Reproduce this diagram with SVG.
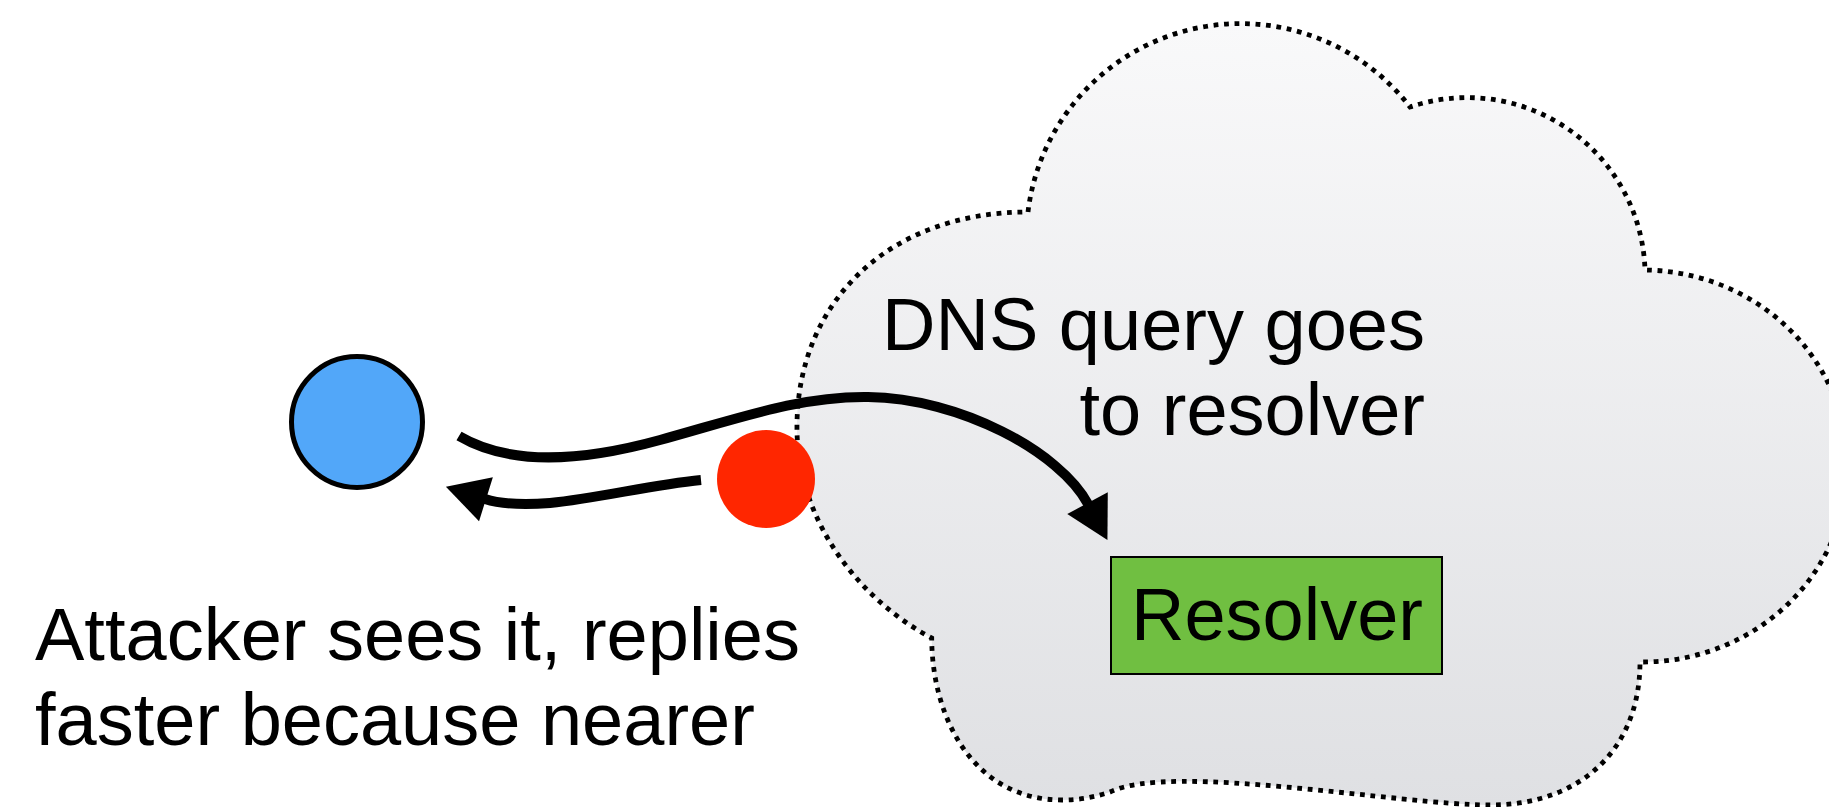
<svg xmlns="http://www.w3.org/2000/svg" width="1829" height="807" viewBox="0 0 1829 807">
  <style>
    .lbl { font-family: "Liberation Sans", Arial, sans-serif; font-size: 74px; fill: #000; }
    .conn { fill: none; stroke: #000; stroke-width: 10; stroke-linecap: butt; }
  </style>
  <defs>
    <linearGradient id="cloudFill" gradientUnits="userSpaceOnUse" x1="0" y1="24" x2="0" y2="807">
      <stop offset="0" stop-color="#F9F9FA"/>
      <stop offset="1" stop-color="#DFE0E3"/>
    </linearGradient>
    <marker id="arrow" markerUnits="userSpaceOnUse" markerWidth="46" markerHeight="50" viewBox="-2 -25 46 50" refX="1" refY="0" orient="auto">
      <path d="M0,-23 L42,0 L0,23 Z" fill="#000"/>
    </marker>
  </defs>
  <rect width="1829" height="807" fill="#FFFFFF"/>

  <g id="cloud">
    <path d="M1028,212 A214,214 0 0 1 1410,107 A178,178 0 0 1 1645,270 A205,196 0 0 1 1640,662 C1640,750 1580,805 1490,805 C1400,805 1170,762 1110,792 C1095,797 1080,800 1062,800 C975,800 932,720 931.7,638 C860,600 795,520 797,423 C799,300 890,212 1028,212 Z" fill="url(#cloudFill)" stroke="#000" stroke-width="4.8" stroke-dasharray="4.8 5.7"/>
  </g>

  <g id="connectors">
    <path class="conn" d="M459,436 C510,466 580,462 660,440 C740,418 800,396 868,397 C960,398 1060,452 1088,504" marker-end="url(#arrow)"/>
    <path class="conn" d="M701,480 C650,485 600,498 550,503 C525,505 504,505 485,499" marker-end="url(#arrow)"/>
  </g>

  <g id="client">
    <circle cx="357" cy="422" r="65.5" fill="#52A7F9" stroke="#000" stroke-width="5"/>
  </g>

  <g id="attacker">
    <circle cx="766" cy="479" r="49" fill="#FF2600"/>
  </g>

  <g id="resolver">
    <rect x="1111" y="557" width="331" height="117" fill="#70BF41" stroke="#000" stroke-width="2"/>
    <text class="lbl" x="1277" y="640" text-anchor="middle">Resolver</text>
  </g>

  <g id="query-label">
    <text class="lbl" x="1425" y="350" text-anchor="end">DNS query goes</text>
    <text class="lbl" x="1425" y="435" text-anchor="end">to resolver</text>
  </g>

  <g id="attacker-label">
    <text class="lbl" x="35" y="660">Attacker sees it, replies</text>
    <text class="lbl" x="35" y="745">faster because nearer</text>
  </g>
</svg>
